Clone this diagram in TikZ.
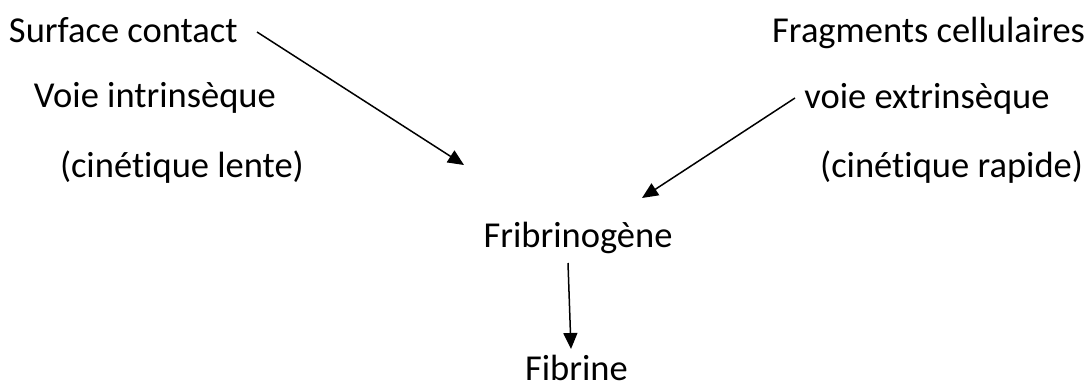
\documentclass[tikz,border=0pt]{standalone}
\usepackage{fontspec}
\setmainfont{Carlito}[Ligatures=NoCommon]
\usetikzlibrary{arrows.meta}
\begin{document}
\begin{tikzpicture}[x=1pt,y=-1pt,
  lbl/.style={inner sep=0pt,outer sep=0pt,anchor=base,font=\fontsize{36.5}{44}\selectfont},
  arr/.style={line width=1.5pt,-{Triangle[length=16pt,width=14pt]}}]
\useasboundingbox (0,0) rectangle (1090,383);
\node[lbl,anchor=base west] (sc) at (9,42) {Surface contact};
\node[lbl,anchor=base west] (vi) at (34,107) {Voie intrinsèque};
\node[lbl,anchor=base west] (cl) at (60,177) {(cinétique lente)};
\node[lbl,anchor=base east] (fc) at (1085,42) {Fragments cellulaires};
\node[lbl] (ve) at (927,108) {voie extrinsèque};
\node[lbl,anchor=base east] (cr) at (1083,177) {(cinétique rapide)};
\node[lbl] (fg) at (578,247) {Fribrinogène};
\node[lbl,anchor=base west] (fb) at (525,380) {Fibrine};
\coordinate (a1s) at (257,32);
\coordinate (a1e) at (464,165);
\coordinate (a2s) at (795,98);
\coordinate (a2e) at (642,198);
\coordinate (a3s) at (568,263);
\coordinate (a3e) at (571,349);
\draw[arr] (a1s) -- (a1e);
\draw[arr] (a2s) -- (a2e);
\draw[arr] (a3s) -- (a3e);
\end{tikzpicture}
\end{document}
